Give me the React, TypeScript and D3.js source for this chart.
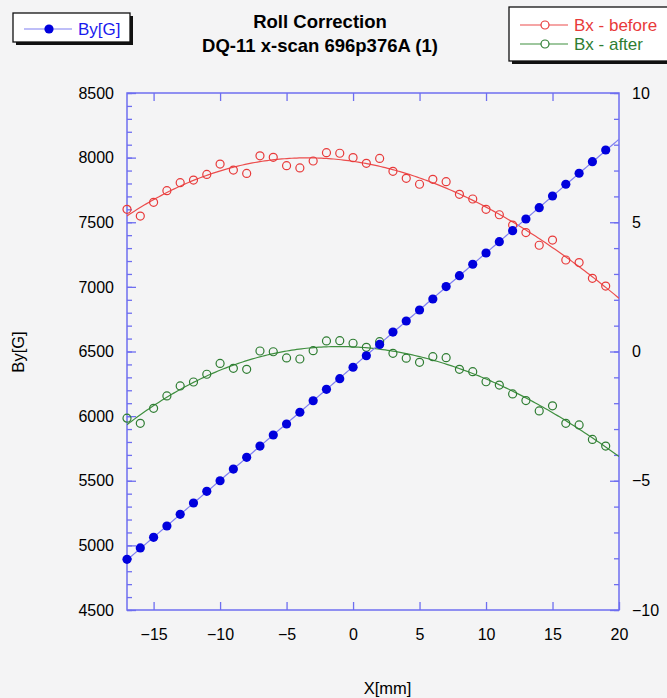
import React, { useEffect, useRef } from "react";
import * as d3 from "d3";

// scan positions [mm]
const xPos = [
  -17, -16, -15, -14, -13, -12, -11, -10, -9, -8, -7, -6, -5, -4, -3, -2, -1, 0,
  1, 2, 3, 4, 5, 6, 7, 8, 9, 10, 11, 12, 13, 14, 15, 16, 17, 18, 19,
];

// By [G], left axis
const byVals = [
  4892, 4980, 5062, 5150, 5240, 5328, 5418, 5500, 5590, 5681, 5768, 5854, 5939,
  6030, 6119, 6207, 6290, 6378, 6467, 6555, 6650, 6736, 6821, 6906, 7002, 7087,
  7175, 7262, 7350, 7435, 7525, 7613, 7703, 7794, 7879, 7969, 8059,
];

// Bx before / after roll correction, right axis
const bxBefore = [
  5.5, 5.24, 5.77, 6.22, 6.53, 6.63, 6.85, 7.25, 7.02, 6.89, 7.57, 7.51, 7.19,
  7.1, 7.37, 7.69, 7.67, 7.5, 7.28, 7.47, 6.97, 6.7, 6.47, 6.66, 6.57, 6.08, 5.9,
  5.5, 5.29, 4.89, 4.6, 4.11, 4.31, 3.54, 3.44, 2.83, 2.53,
];
const bxAfter = [
  -2.58, -2.78, -2.2, -1.72, -1.33, -1.18, -0.88, -0.46, -0.65, -0.69, 0.02,
  -0.01, -0.25, -0.29, 0.03, 0.41, 0.42, 0.32, 0.16, 0.38, -0.07, -0.26, -0.42,
  -0.2, -0.24, -0.69, -0.78, -1.17, -1.3, -1.64, -1.9, -2.3, -2.1, -2.78, -2.84,
  -3.4, -3.66,
];

const xDomain = [-17, 20];
const yLeftDomain = [4500, 8500];
const yRightDomain = [-10, 10];

const FONT = "'Liberation Sans', Arial, sans-serif";

// least squares polynomial fit, returns coefficients c0..cn
const polyfit = (xs: number[], ys: number[], deg: number): number[] => {
  const n = deg + 1;
  const A: number[][] = [];
  for (let i = 0; i < n; i++) {
    A.push([]);
    for (let j = 0; j < n; j++) A[i].push(d3.sum(xs, (x) => Math.pow(x, i + j)));
    A[i].push(d3.sum(xs, (x, k) => Math.pow(x, i) * ys[k]));
  }
  for (let c = 0; c < n; c++) {
    let p = c;
    for (let r = c + 1; r < n; r++) if (Math.abs(A[r][c]) > Math.abs(A[p][c])) p = r;
    [A[c], A[p]] = [A[p], A[c]];
    for (let r = 0; r < n; r++) {
      if (r === c) continue;
      const f = A[r][c] / A[c][c];
      for (let k = c; k <= n; k++) A[r][k] -= f * A[c][k];
    }
  }
  return A.map((row, i) => row[n] / row[i]);
};

const App: React.FC = () => {
  const svgRef = useRef<SVGSVGElement>(null);

  useEffect(() => {
    if (!svgRef.current) return;
    const svg = d3.select(svgRef.current);
    const width = 667;
    const height = 698;
    const margin = { top: 93, right: 48, bottom: 88, left: 127 };
    const w = width - margin.left - margin.right;
    const h = height - margin.top - margin.bottom;
    const axisColor = "#6e6ef0";

    svg.attr("width", width).attr("height", height);
    svg.append("rect").attr("width", width).attr("height", height).attr("fill", "#f4f4f5");

    const x = d3.scaleLinear().domain(xDomain).range([0, w]);
    const yL = d3.scaleLinear().domain(yLeftDomain).range([h, 0]);
    const yR = d3.scaleLinear().domain(yRightDomain).range([h, 0]);

    const g = svg.append("g").attr("transform", `translate(${margin.left},${margin.top})`);

    svg
      .append("defs")
      .append("clipPath")
      .attr("id", "plot-clip")
      .append("rect")
      .attr("width", w)
      .attr("height", h);

    // axes
    const styleAxis = (sel: d3.Selection<SVGGElement, unknown, null, undefined>) => {
      sel.select(".domain").remove();
      sel.selectAll("line").attr("stroke", axisColor).attr("stroke-width", 1.3);
      sel.selectAll("text").attr("fill", "#000").style("font-family", FONT).style("font-size", "16px");
    };

    g.append("g")
      .attr("transform", `translate(0,${h})`)
      .call(d3.axisBottom(x).tickValues([-15, -10, -5, 0, 5, 10, 15, 20]).tickSizeInner(-8).tickSizeOuter(0).tickPadding(19))
      .call(styleAxis);
    g.append("g")
      .call(d3.axisTop(x).tickValues([-15, -10, -5, 0, 5, 10, 15]).tickSizeInner(-8).tickSizeOuter(0).tickFormat(() => ""))
      .call(styleAxis);

    g.append("g")
      .call(d3.axisLeft(yL).ticks(40).tickFormat(() => "").tickSizeInner(-5).tickSizeOuter(0))
      .call(styleAxis);
    g.append("g")
      .call(d3.axisLeft(yL).ticks(8).tickFormat(d3.format("d")).tickSizeInner(-9).tickSizeOuter(0).tickPadding(13))
      .call(styleAxis);

    g.append("g")
      .attr("transform", `translate(${w},0)`)
      .call(d3.axisRight(yR).ticks(20).tickFormat(() => "").tickSizeInner(-5).tickSizeOuter(0))
      .call(styleAxis);
    g.append("g")
      .attr("transform", `translate(${w},0)`)
      .call(d3.axisRight(yR).ticks(4).tickFormat(d3.format("d")).tickSizeInner(-9).tickSizeOuter(0).tickPadding(13))
      .call(styleAxis);

    g.append("rect")
      .attr("width", w)
      .attr("height", h)
      .attr("fill", "none")
      .attr("stroke", axisColor)
      .attr("stroke-width", 1.5);

    // fitted curves
    const fitX = d3.range(0, 201).map((i) => xDomain[0] + ((xDomain[1] - xDomain[0]) * i) / 200);
    const evalPoly = (c: number[], v: number) => c.reduce((s, ci, i) => s + ci * Math.pow(v, i), 0);

    const series = [
      { vals: bxBefore, y: yR, deg: 3, line: "#ec4d4d", marker: "#e83a3a", filled: false },
      { vals: bxAfter, y: yR, deg: 3, line: "#3f8f3f", marker: "#2e7d32", filled: false },
      { vals: byVals, y: yL, deg: 1, line: "#7f7ff2", marker: "#0000dd", filled: true },
    ];

    const plot = g.append("g").attr("clip-path", "url(#plot-clip)");

    series.forEach((s) => {
      const c = polyfit(xPos, s.vals, s.deg);
      const line = d3
        .line<number>()
        .x((v) => x(v))
        .y((v) => s.y(evalPoly(c, v)));
      plot
        .append("path")
        .datum(fitX)
        .attr("fill", "none")
        .attr("stroke", s.line)
        .attr("stroke-width", 1.2)
        .attr("d", line);
    });

    series.forEach((s) => {
      g.append("g")
        .selectAll("circle")
        .data(s.vals)
        .enter()
        .append("circle")
        .attr("cx", (_, i) => x(xPos[i]))
        .attr("cy", (v) => s.y(v))
        .attr("r", s.filled ? 4.6 : 4)
        .attr("fill", s.filled ? s.marker : "none")
        .attr("stroke", s.marker)
        .attr("stroke-width", s.filled ? 0 : 1.2);
    });

    // titles
    const title = svg
      .append("text")
      .attr("text-anchor", "middle")
      .style("font-family", FONT)
      .style("font-size", "18.5px")
      .style("font-weight", "bold");
    title.append("tspan").attr("x", 320).attr("y", 28).text("Roll Correction");
    title.append("tspan").attr("x", 320).attr("y", 52).text("DQ-11 x-scan 696p376A (1)");

    svg
      .append("text")
      .attr("transform", "translate(23.5,352) rotate(-90)")
      .attr("text-anchor", "middle")
      .style("font-family", FONT)
      .style("font-size", "16.5px")
      .text("By[G]");
    svg
      .append("text")
      .attr("x", 387.5)
      .attr("y", 694)
      .attr("text-anchor", "middle")
      .style("font-family", FONT)
      .style("font-size", "16.5px")
      .text("X[mm]");

    // legends
    const legendBox = (bx: number, by: number, bw: number, bh: number) => {
      svg.append("rect").attr("x", bx + 3).attr("y", by + 3).attr("width", bw).attr("height", bh).attr("fill", "#111");
      svg
        .append("rect")
        .attr("x", bx)
        .attr("y", by)
        .attr("width", bw)
        .attr("height", bh)
        .attr("fill", "#fff")
        .attr("stroke", "#111")
        .attr("stroke-width", 1.3);
    };
    const legendItem = (lx: number, ly: number, label: string, s: (typeof series)[number]) => {
      svg.append("line").attr("x1", lx).attr("x2", lx + 48).attr("y1", ly).attr("y2", ly).attr("stroke", s.line).attr("stroke-width", 1.2);
      svg
        .append("circle")
        .attr("cx", lx + 25)
        .attr("cy", ly)
        .attr("r", s.filled ? 4.6 : 4)
        .attr("fill", s.filled ? s.marker : "#fff")
        .attr("stroke", s.marker)
        .attr("stroke-width", s.filled ? 0 : 1.2);
      svg
        .append("text")
        .attr("x", lx + 54)
        .attr("y", ly + 6)
        .attr("fill", s.filled ? "#1a1aee" : s.marker)
        .style("font-family", FONT)
        .style("font-size", "17px")
        .text(label);
    };

    legendBox(13, 13, 117, 29);
    legendItem(24, 29, "By[G]", series[2]);
    legendBox(509, 7, 162, 54);
    legendItem(520, 25, "Bx - before", series[0]);
    legendItem(520, 44, "Bx - after", series[1]);

    return () => {
      svg.selectAll("*").remove();
    };
  }, []);

  return <svg ref={svgRef} style={{ position: "absolute", left: 0, top: 0 }} />;
};

export default App;
